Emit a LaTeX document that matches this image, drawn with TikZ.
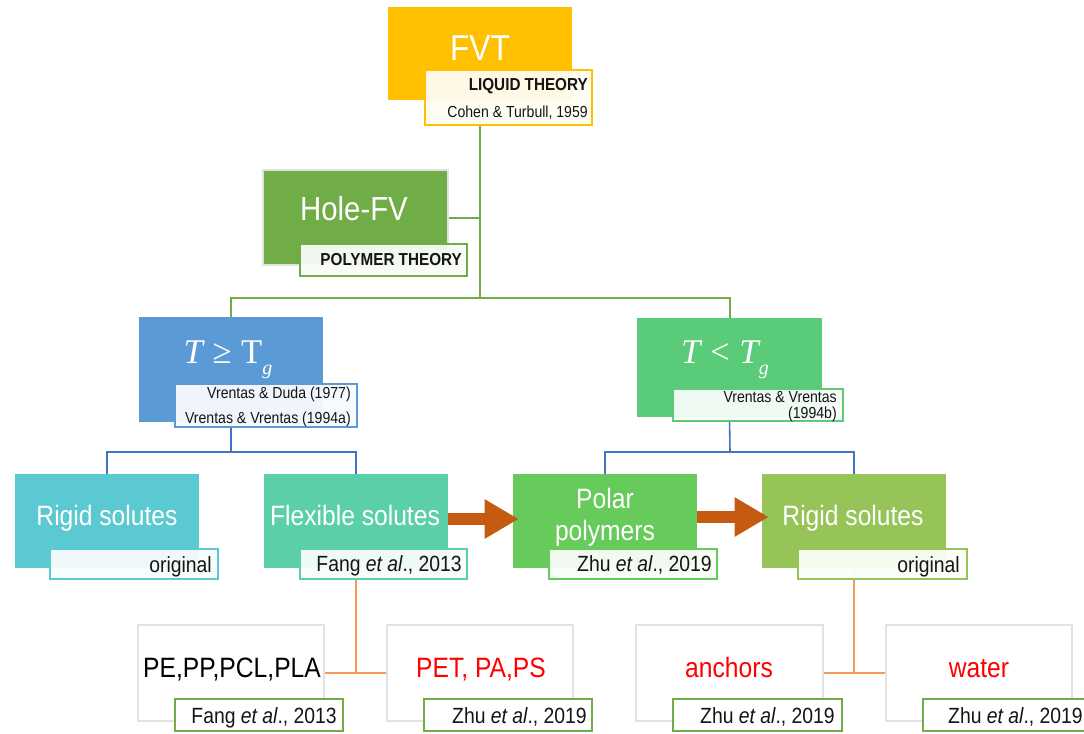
\documentclass[tikz,border=0pt]{standalone}
\usepackage{fontspec}
\setmainfont{Liberation Sans}[FakeStretch=0.88]
\newfontfamily\serifface{Liberation Serif}
\usetikzlibrary{fit,arrows.meta,backgrounds}

\definecolor{cfvt}{HTML}{FFC000}
\definecolor{chole}{HTML}{70AD47}
\definecolor{ctge}{HTML}{5B9BD5}
\definecolor{ctlt}{HTML}{5ACB78}
\definecolor{crigl}{HTML}{5BC9D1}
\definecolor{cflex}{HTML}{5BD0A6}
\definecolor{cpolar}{HTML}{66CB5B}
\definecolor{crigr}{HTML}{97C459}
\definecolor{carrow}{HTML}{C55A11}
\definecolor{cgline}{HTML}{70AD47}
\definecolor{cbline}{HTML}{4472C4}
\definecolor{coline}{HTML}{F39B5C}
\definecolor{cgray}{HTML}{E2E2E2}
\definecolor{cred}{HTML}{FF0000}
\definecolor{cink}{HTML}{151515}

\newcommand\fsz[2]{\fontsize{#1}{#2}\selectfont}
% serif "temperature" symbols with a lowered subscript
\newcommand\tvar{{\serifface\itshape T}}
\newcommand\tsubg{\raisebox{-0.32em}{\fsz{15pt}{17pt}\serifface\itshape g}}
\newcommand\relsp{\hspace{0.28em}}

\begin{document}
\begin{tikzpicture}[x=0.75pt,y=-0.75pt,
  block/.style={inner sep=0pt},
  tag/.style={inner sep=0pt, line width=1.5pt, fill opacity=0.95},
  leaf/.style={inner sep=0pt, fill=white, draw=cgray, line width=1.5pt},
  big/.style={text=white, inner sep=0pt, font=\fsz{21pt}{25pt}},
  small/.style={text=cink, inner sep=0pt, anchor=base east, font=\fsz{16.5pt}{20pt}},
  ref/.style={text=cink, inner sep=0pt, anchor=base east, font=\fsz{12pt}{14pt}},
  gline/.style={draw=cgline, line width=1.5pt},
  bline/.style={draw=cbline, line width=1.2pt},
  oline/.style={draw=coline, line width=1.5pt},
  bigarrow/.style={draw=carrow, line width=9pt,
    -{Triangle[length=25.5pt,width=27.75pt]}}]
\clip (0,0) rectangle (1084,733);

% ---- top: free-volume theory ----
\node[block, fit={(388,7)(572,100)}, fill=cfvt] (fvt) {};
\node[tag, fit={(425,70)(592,125)}, draw=cfvt, fill=white!95!cfvt] (fvtlab) {};
\node[text=white, inner sep=0pt, anchor=base, font=\fsz{27pt}{32pt}] (fvttext) at (480,60) {FVT};
\node[text=cink, inner sep=0pt, anchor=base east, font=\bfseries\fsz{13pt}{15pt}] (liq) at (588,90) {LIQUID THEORY};
\node[text=cink, inner sep=0pt, anchor=base east, font=\fsz{12pt}{14pt}] (cohen) at (588,117) {Cohen \& Turbull, 1959};

% ---- hole free volume ----
\node[block, fit={(263,170)(448,265)}, fill=chole, draw=cgray, line width=1pt] (hole) {};
\node[tag, fit={(300,244)(467,276)}, draw=chole, fill=white!95!chole] (holelab) {};
\node[text=white, inner sep=0pt, anchor=base, font=\fsz{25pt}{29pt}] (holetext) at (354,220) {Hole-FV};
\node[text=cink, inner sep=0pt, anchor=base east, font=\bfseries\fsz{13pt}{15pt}] (polth) at (462,265) {POLYMER THEORY};

% ---- temperature regimes ----
\node[block, fit={(139,317)(323,422)}, fill=ctge] (tge) {};
\node[tag, fit={(175,384)(357,427)}, draw=ctge, fill=white!95!ctge] (tgelab) {};
\node[text=white, inner sep=0pt, anchor=base, font=\fsz{26pt}{30pt}] (tgetext) at (228,363)
  {\tvar\relsp{\serifface ≥}\relsp{\serifface T}\tsubg};
\node[ref] (vd) at (351,398) {Vrentas \& Duda (1977)};
\node[ref] (vva) at (351,423) {Vrentas \& Vrentas (1994a)};

\node[block, fit={(637,318)(822,417)}, fill=ctlt] (tlt) {};
\node[tag, fit={(673,389)(843,421)}, draw=ctlt, fill=white!95!ctlt] (tltlab) {};
\node[text=white, inner sep=0pt, anchor=base, font=\fsz{26pt}{30pt}] (tlttext) at (725,363)
  {\tvar\relsp{\serifface <}\relsp\tvar\tsubg};
\node[ref] (vvb1) at (837,402) {Vrentas \& Vrentas};
\node[ref] (vvb2) at (837,418) {(1994b)};

% ---- solute classes ----
\node[block, fit={(15,474)(199,568)}, fill=crigl] (rigl) {};
\node[tag, fit={(50,549)(218,579)}, draw=crigl, fill=white!95!crigl] (rigllab) {};
\node[big, anchor=base] (rigltext) at (107,525) {Rigid solutes};
\node[small] (riglref) at (212,572) {original};

\node[block, fit={(264,474)(448,568)}, fill=cflex] (flex) {};
\node[tag, fit={(300,549)(467,579)}, draw=cflex, fill=white!96!cflex] (flexlab) {};
\node[big, anchor=base] (flextext) at (355,525) {Flexible solutes};
\node[small] (flexref) at (462,571) {Fang \textit{et al}., 2013};

\node[block, fit={(513,474)(697,568)}, fill=cpolar] (polar) {};
\node[tag, fit={(549,549)(717,579)}, draw=cpolar, fill=white!96!cpolar] (polarlab) {};
\node[big, anchor=base] (polar1) at (605,508) {Polar};
\node[big, anchor=base] (polar2) at (605,540) {polymers};
\node[small] (polarref) at (712,571) {Zhu \textit{et al}., 2019};

\node[block, fit={(762,474)(946,568)}, fill=crigr] (rigr) {};
\node[tag, fit={(798,549)(967,579)}, draw=crigr, fill=white!96!crigr] (rigrlab) {};
\node[big, anchor=base] (rigrtext) at (853,525) {Rigid solutes};
\node[small] (rigrref) at (960,572) {original};

% ---- examples ----
\node[leaf, fit={(138,625)(324,721)}] (pe) {};
\node[tag, fit={(175,699)(343,731)}, draw=chole, fill=white] (pelab) {};
\node[big, text=black, anchor=base] (petext) at (232,677) {PE,PP,PCL,PLA};
\node[small] (peref) at (337,723) {Fang \textit{et al}., 2013};

\node[leaf, fit={(387,625)(573,721)}] (pet) {};
\node[tag, fit={(424,699)(592,731)}, draw=chole, fill=white] (petlab) {};
\node[big, text=cred, anchor=base] (pettext) at (481,677) {PET, PA,PS};
\node[small] (petref) at (587,723) {Zhu \textit{et al}., 2019};

\node[leaf, fit={(636,625)(823,721)}] (anch) {};
\node[tag, fit={(673,699)(842,731)}, draw=chole, fill=white] (anchlab) {};
\node[big, text=cred, anchor=base] (anchtext) at (729,677) {anchors};
\node[small] (anchref) at (835,723) {Zhu \textit{et al}., 2019};

\node[leaf, fit={(886,625)(1072,721)}] (water) {};
\node[tag, fit={(923,699)(1092,731)}, draw=chole, fill=white] (waterlab) {};
\node[big, text=cred, anchor=base] (watertext) at (979,677) {water};
\node[small] (waterref) at (1083,723) {Zhu \textit{et al}., 2019};

% ---- connectors ----
\coordinate (bus1) at (480,298);
\coordinate (busl) at (231,452);
\coordinate (busr) at (730,452);
\coordinate (busfl) at (356,673);
\coordinate (busrr) at (854,673);

\begin{scope}[on background layer]
  \draw[gline] (fvt.south) -- (bus1);
  \draw[gline] (hole.east) -- (hole.east -| fvt.south);
  \draw[gline] (tge.north) |- (bus1) -| (tlt.north);
  \draw[bline] (tge.south) -- (busl);
  \draw[bline] (rigl.north) |- (busl) -| (flex.north);
  \draw[bline] (tlt.south) -- (busr);
  \draw[bline] (polar.north) |- (busr) -| (rigr.north);
  \draw[oline] (flex.south) -- (busfl);
  \draw[oline] (pe.east) -- (pet.west);
  \draw[oline] (rigr.south) -- (busrr);
  \draw[oline] (anch.east) -- (water.west);
\end{scope}

\draw[bigarrow, shorten >=-4.5pt] (flex.east |- 0,519) -- (polar.west |- 0,519);
\draw[bigarrow, shorten >=-5.25pt] (polar.east |- 0,517) -- (rigr.west |- 0,517);
\end{tikzpicture}
\end{document}
